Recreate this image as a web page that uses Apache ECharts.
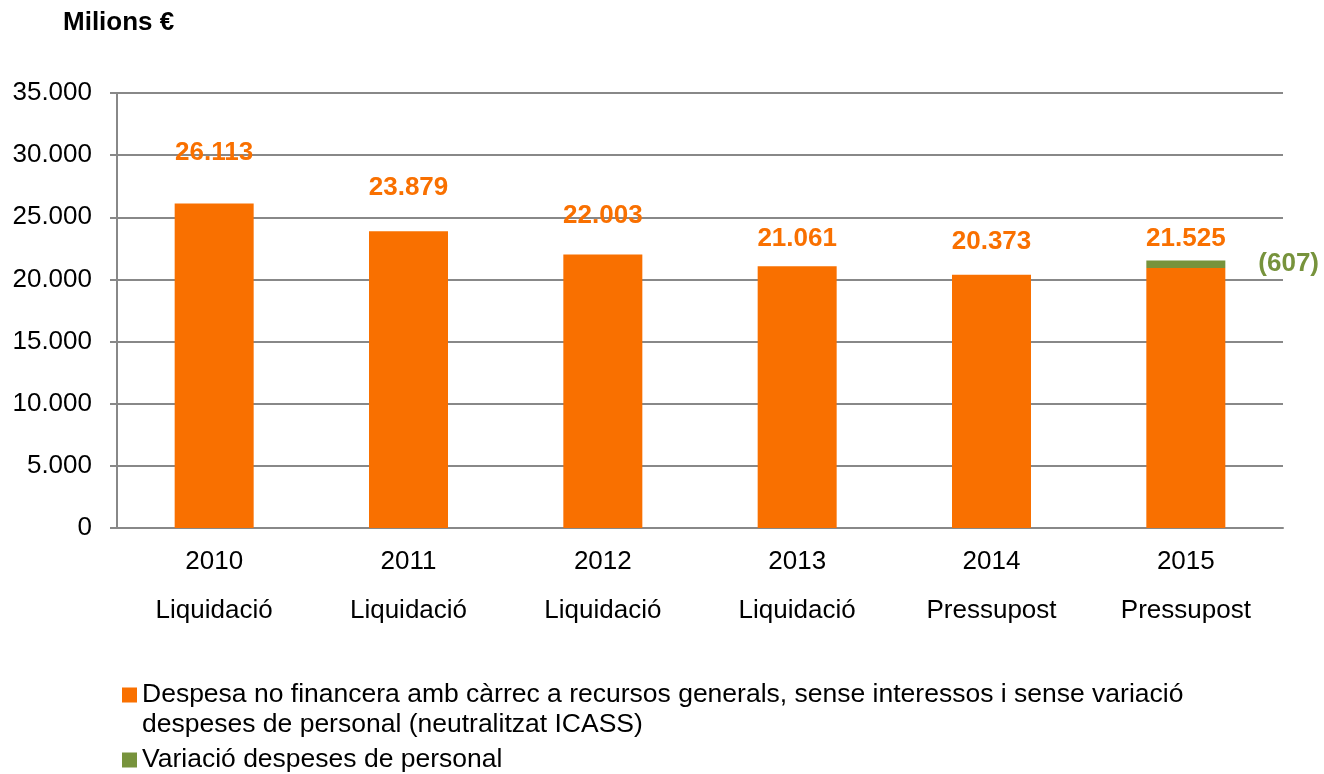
<!DOCTYPE html>
<html>
<head>
<meta charset="utf-8">
<script src="https://cdn.jsdelivr.net/npm/echarts@6/dist/echarts.min.js"></script>
<style>html,body{margin:0;padding:0;background:#fff}#c{width:1324px;height:774px}</style>
</head>
<body>
<div id="c"></div>
<script>
const years = ['2010', '2011', '2012', '2013', '2014', '2015'];
const kinds = ['Liquidació', 'Liquidació', 'Liquidació', 'Liquidació', 'Pressupost', 'Pressupost'];
const baseValues = [26113, 23879, 22003, 21061, 20373, 20918];
const personnelVariation = [null, null, null, null, null, 607];
const totals = [26113, 23879, 22003, 21061, 20373, 21525];
const seriesNames = ['Despesa no financera amb càrrec a recursos generals, sense interessos i sense variació\ndespeses de personal (neutralitzat ICASS)', 'Variació despeses de personal'];
const yTicks = [0, 5000, 10000, 15000, 20000, 25000, 30000, 35000];

// label lift above bar top (layout only)
const labelLift = [38, 30, 26, 14, 20, 9];

const ORANGE = '#F97000', GREEN = '#77933C';
const FONT = '"Liberation Sans", Arial, sans-serif';
const FS = 26;
const fmt = v => String(v).replace(/\B(?=(\d{3})+(?!\d))/g, '.');

const totalLabel = i => ({
  show: true, position: 'top', distance: labelLift[i],
  formatter: () => fmt(totals[i]),
  color: ORANGE, fontSize: FS, fontWeight: 'bold', fontFamily: FONT
});

const legendText = { fontFamily: FONT, fontSize: 26.5, color: '#000', lineHeight: 30 };

const chart = echarts.init(document.getElementById('c'));
chart.setOption({
  animation: false,
  textStyle: { fontFamily: FONT },
  title: { text: 'Milions €', left: 63, top: 10, padding: 0, textStyle: { fontFamily: FONT, fontSize: 26, fontWeight: 'bold', color: '#000' } },
  grid: { left: 117, right: 41, top: 93, bottom: 246, containLabel: false },
  legend: [
    {
      orient: 'vertical', left: 122, top: 680, padding: 0, itemWidth: 15, itemHeight: 45, itemGap: 0,
      textStyle: legendText,
      data: [{ name: seriesNames[0], icon: 'path://M0,0h15v15h-15z M0,44.95h0.05v0.05h-0.05z' }]
    },
    {
      orient: 'vertical', left: 122, top: 745, padding: 0, itemWidth: 15, itemHeight: 15,
      icon: 'rect',
      textStyle: legendText,
      data: [seriesNames[1]]
    }
  ],
  xAxis: {
    type: 'category',
    data: years.map((y, i) => y + '\n' + kinds[i]),
    axisLine: { lineStyle: { color: '#888', width: 2 } },
    axisTick: { show: false },
    axisLabel: { fontFamily: FONT, fontSize: FS, color: '#000', lineHeight: 49, margin: 9 }
  },
  yAxis: {
    type: 'value', min: yTicks[0], max: yTicks[yTicks.length - 1], interval: 5000,
    axisLine: { show: true, lineStyle: { color: '#888', width: 2 } },
    axisTick: { show: true, length: 7, lineStyle: { color: '#888', width: 2 } },
    splitLine: { lineStyle: { color: '#888', width: 2 } },
    axisLabel: { fontFamily: FONT, fontSize: FS, color: '#000', margin: 25, formatter: v => fmt(v) }
  },
  series: [
    {
      name: seriesNames[0], type: 'bar', stack: 's', barWidth: 79,
      itemStyle: { color: ORANGE },
      data: baseValues.map((v, i) => ({
        value: v,
        label: personnelVariation[i] == null ? totalLabel(i) : { show: false }
      }))
    },
    {
      name: seriesNames[1], type: 'bar', stack: 's', barWidth: 79,
      itemStyle: { color: GREEN },
      data: personnelVariation.map((v, i) => v == null ? null : ({
        value: v,
        label: { show: true, position: 'right', distance: 33, formatter: () => '(' + v + ')', color: GREEN, fontSize: FS, fontWeight: 'bold', fontFamily: FONT }
      }))
    },
    {
      name: 'total-label', type: 'bar', stack: 's2', barWidth: 79, barGap: '-100%',
      itemStyle: { color: 'transparent' }, silent: true,
      data: personnelVariation.map((v, i) => v == null ? null : ({
        value: totals[i],
        label: totalLabel(i)
      }))
    }
  ]
});
</script>
</body>
</html>
